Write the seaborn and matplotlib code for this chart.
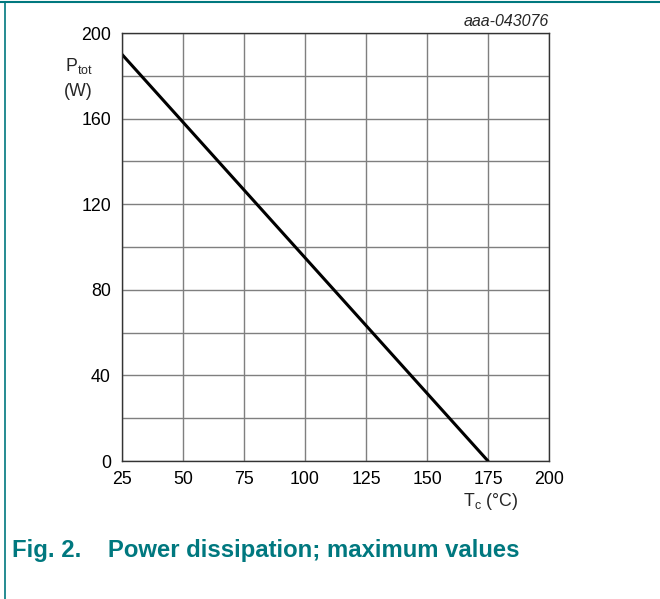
import matplotlib
matplotlib.use("Agg")
import matplotlib.pyplot as plt
import seaborn as sns
import pandas as pd
from matplotlib.ticker import MultipleLocator
from matplotlib.lines import Line2D

tc = [25, 175]
ptot = [190, 0]
x_ticks = [25, 50, 75, 100, 125, 150, 175, 200]
y_ticks = [0, 40, 80, 120, 160, 200]

sns.set_style("white")
plt.rcParams['font.family'] = ['Liberation Sans', 'DejaVu Sans']
plt.rcParams['mathtext.fontset'] = 'custom'
plt.rcParams['mathtext.rm'] = 'Liberation Sans'

df = pd.DataFrame({"Tc": tc, "Ptot": ptot})

fig = plt.figure(figsize=(6.6, 5.99), dpi=100)
ax = fig.add_axes([122/660, 1-461/599, (549-122)/660, (461-33)/599])

sns.lineplot(data=df, x="Tc", y="Ptot", ax=ax, color="black", linewidth=2.2)

ax.set_xlim(25, 200)
ax.set_ylim(0, 200)
ax.set_xticks(x_ticks)
ax.set_yticks(y_ticks)
ax.yaxis.set_minor_locator(MultipleLocator(20))
ax.grid(True, which="both", color="#7f7f7f", linewidth=1.0)
ax.tick_params(which="both", length=0, labelsize=12.8, colors="black")
ax.tick_params(axis="x", pad=7.5)
ax.tick_params(axis="y", pad=8)
ax.set_xlabel("")
ax.set_ylabel("")
for s in ax.spines.values():
    s.set_color("#333333")
    s.set_linewidth(1.0)

fs = 12.8
fig.text(65/660, 1-66/599, r"P$_{\mathregular{tot}}$", fontsize=fs, ha="left", va="center")
fig.text(64/660, 1-91/599, "(W)", fontsize=fs, ha="left", va="center")
fig.text(518/660, 1-501/599, r"T$_{\mathregular{c}}$ (°C)", fontsize=fs, ha="right", va="center")
fig.text(549/660, 1-21/599, "aaa-043076", fontsize=11.5, style="italic", ha="right", va="center")

teal = "#00787f"
fig.text(12/660, 1-550/599, "Fig. 2.    Power dissipation; maximum values",
         fontsize=17.2, fontweight="bold", color=teal, ha="left", va="center")

fig.add_artist(Line2D([0, 1], [1-1.5/599, 1-1.5/599], color=teal, linewidth=1.5, transform=fig.transFigure))
fig.add_artist(Line2D([5/660, 5/660], [0, 1-1.5/599], color=teal, linewidth=1.2, transform=fig.transFigure))

fig.savefig("out.png", dpi=100)
